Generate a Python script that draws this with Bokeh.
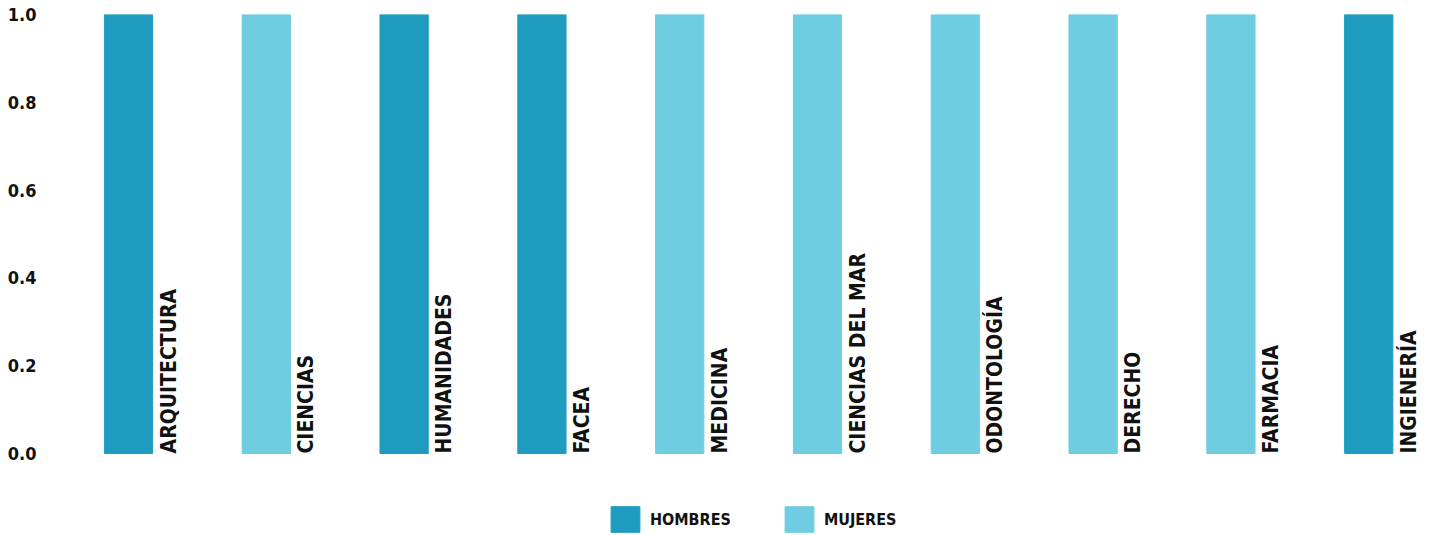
import numpy as np
from bokeh.plotting import figure
from bokeh.models import ColumnDataSource, Range1d, Legend, LegendItem, FixedTicker, NumeralTickFormatter
from bokeh.core.properties import value
from bokeh.embed import file_html
from bokeh.resources import INLINE

facultades = ["ARQUITECTURA", "CIENCIAS", "HUMANIDADES", "FACEA", "MEDICINA",
              "CIENCIAS DEL MAR", "ODONTOLOGÍA", "DERECHO", "FARMACIA", "INGIENERÍA"]
valores = [1.0, 1.0, 1.0, 1.0, 1.0, 1.0, 1.0, 1.0, 1.0, 1.0]
genero = ["HOMBRES", "MUJERES", "HOMBRES", "HOMBRES", "MUJERES",
          "MUJERES", "MUJERES", "MUJERES", "MUJERES", "HOMBRES"]
y_ticks = [0.0, 0.2, 0.4, 0.6, 0.8, 1.0]

COLORS = {"HOMBRES": "#1E9BBE", "MUJERES": "#6ECDE1"}
FONT = "DejaVu Sans Condensed"

src = ColumnDataSource(dict(
    x=list(range(len(facultades))),
    top=valores,
    name=facultades,
    genero=genero,
    color=[COLORS[g] for g in genero],
))

p = figure(width=1429, height=535, output_backend="svg", toolbar_location=None,
           x_range=Range1d(-0.4935, 9.441), y_range=Range1d(-0.1868, 1.0),
           min_border_left=60, min_border_right=0, min_border_top=14,
           min_border_bottom=0)
p.outline_line_color = None
p.grid.grid_line_color = None
p.xaxis.visible = False

bars = p.vbar(x="x", top="top", bottom=0, width=0.35, color="color", source=src)

p.text(x="x", y=0, text="name", angle=np.pi / 2, x_offset=28,
       text_align="left", text_baseline="top", text_font=value(FONT),
       text_font_style="bold", text_font_size="21px", text_color="#111111",
       source=src)

ya = p.yaxis[0]
ya.ticker = FixedTicker(ticks=y_ticks)
ya.formatter = NumeralTickFormatter(format="0.0")
ya.axis_line_color = None
ya.major_tick_line_color = None
ya.minor_tick_line_color = None
ya.major_label_text_font = FONT
ya.major_label_text_font_style = "bold"
ya.major_label_text_font_size = "18px"
ya.major_label_text_color = "#111111"
ya.major_label_standoff = 18

legend = Legend(items=[
    LegendItem(label="HOMBRES", renderers=[bars], index=0),
    LegendItem(label="MUJERES", renderers=[bars], index=1),
], location=(547, 0), orientation="horizontal")
legend.padding = 0
legend.margin = 0
legend.border_line_color = None
legend.background_fill_alpha = 0
legend.glyph_width = 36
legend.glyph_height = 32
legend.label_standoff = 7
legend.spacing = 50
legend.label_text_font = FONT
legend.label_text_font_style = "bold"
legend.label_text_font_size = "16px"
legend.label_text_color = "#111111"
p.add_layout(legend, "center")

open("out.html", "w").write(file_html(p, INLINE))
